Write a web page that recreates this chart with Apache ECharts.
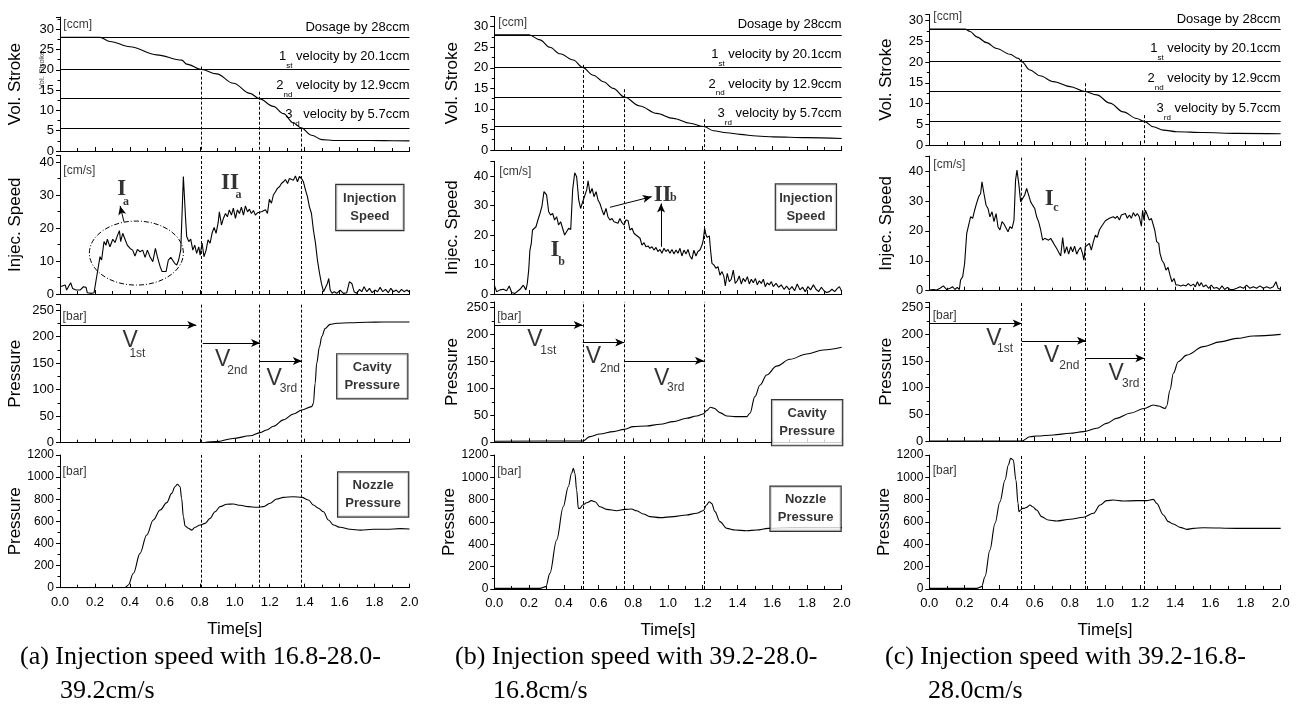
<!DOCTYPE html>
<html><head><meta charset="utf-8">
<script src="https://cdn.jsdelivr.net/npm/echarts@6/dist/echarts.min.js"></script>
<style>html,body{margin:0;padding:0;background:#fff}#c{width:1304px;height:704px}</style>
</head><body><div id="c"></div>
<script>
// ---------------- DATA ----------------
const timeMin = 0, timeMax = 2.0, timeStep = 0.2;
const levels = [28, 20.1, 12.9, 5.7];
const levelNum = ['', '1', '2', '3'];
const levelSub = ['', 'st', 'nd', 'rd'];
const levelText = ['Dosage by 28ccm', ' velocity by 20.1ccm', ' velocity by 12.9ccm', ' velocity by 5.7ccm'];

// (a) 16.8-28.0-39.2 cm/s
const strokeA = [[0,28],[0.23,28],[0.286,27],[0.4,25.7],[0.553,23.7],[0.697,22.4],[0.725,21.4],[0.81,20.1],[0.897,19],[0.992,16.7],[1.088,14.2],[1.14,12.9],[1.221,11],[1.279,9.2],[1.336,6.9],[1.38,5.7],[1.44,3.9],[1.498,2.8],[1.565,2.6],[1.7,2.6],[1.85,2.55],[2.0,2.5]];
const speedA = [[0,2.2],[0.03,2.7],[0.038,1.2],[0.061,3.4],[0.072,1.7],[0.092,1.2],[0.115,1.2],[0.134,2.2],[0.149,2],[0.156,0.4],[0.181,0.2],[0.195,0.4],[0.21,5.3],[0.229,11.3],[0.238,10.3],[0.252,15.9],[0.263,14.8],[0.271,16.6],[0.286,14.3],[0.302,16.6],[0.315,15.6],[0.328,17.6],[0.34,19.2],[0.347,15.9],[0.359,18.4],[0.372,16.6],[0.385,14.8],[0.401,13.8],[0.416,13.3],[0.429,11.5],[0.443,13.5],[0.458,12.8],[0.473,13.3],[0.487,11.1],[0.5,13.3],[0.515,11.3],[0.531,9.8],[0.546,13.8],[0.557,11.3],[0.573,8.3],[0.584,6.8],[0.595,7.3],[0.607,6.8],[0.62,10.3],[0.634,11.1],[0.645,11.5],[0.656,9.3],[0.668,8.8],[0.679,10.3],[0.691,13.3],[0.706,35.6],[0.718,23.4],[0.725,17.4],[0.737,15.9],[0.748,16.6],[0.76,13.3],[0.771,14.8],[0.782,12.3],[0.794,14.3],[0.802,11.8],[0.813,15.4],[0.824,11.3],[0.836,13.3],[0.847,16.4],[0.859,15.4],[0.87,18.4],[0.882,20.2],[0.893,18.4],[0.905,21.6],[0.912,24.9],[0.924,20.9],[0.935,22.9],[0.947,24.4],[0.958,23.4],[0.969,25.5],[0.981,23.9],[0.992,26],[1.004,22.9],[1.015,25.5],[1.027,24.4],[1.038,26.3],[1.05,23.9],[1.061,26.7],[1.073,24.9],[1.084,25.7],[1.095,24.4],[1.107,25.3],[1.118,23.9],[1.13,24.6],[1.141,24.2],[1.153,24.9],[1.164,24.6],[1.176,25.5],[1.187,24.4],[1.198,28.7],[1.21,27.5],[1.221,30],[1.233,31],[1.244,32],[1.256,32.5],[1.267,33.5],[1.279,34],[1.29,34.7],[1.302,33.5],[1.313,35],[1.324,35.4],[1.336,34.5],[1.347,35.8],[1.359,34],[1.37,35.6],[1.382,35],[1.393,34],[1.405,31.5],[1.416,29.5],[1.427,26.5],[1.439,24.4],[1.45,19.4],[1.462,15.4],[1.473,10.3],[1.485,6.3],[1.496,3.2],[1.508,0.7],[1.519,0.2],[1.53,3.2],[1.538,4.7],[1.546,1.2],[1.557,0.2],[1.569,0.7],[1.584,0.2],[1.603,1.2],[1.622,0.2],[1.641,0.4],[1.656,3.7],[1.67,3.2],[1.683,0.7],[1.698,0.2],[1.714,1.4],[1.727,0.7],[1.74,2.2],[1.756,0.7],[1.771,1.7],[1.786,0.4],[1.802,1.2],[1.817,0.7],[1.832,2],[1.847,0.7],[1.863,1.4],[1.878,0.4],[1.893,1.7],[1.908,0.7],[1.924,1.2],[1.939,0.4],[1.954,1.4],[1.969,0.7],[1.985,1.2],[2.0,0.6]];
const cavityA = [[0.82,0],[0.897,2],[0.99,8],[1.088,13],[1.145,19],[1.183,24],[1.221,31],[1.279,43],[1.336,54],[1.384,61.6],[1.44,68],[1.45,74],[1.46,112],[1.469,150],[1.485,181],[1.498,200],[1.517,215],[1.546,223],[1.584,225],[1.66,226],[1.756,227],[1.851,227.4],[2.0,227.4]];
const nozzleA = [[0,0],[0.372,0],[0.391,24],[0.42,130],[0.458,310],[0.496,476],[0.534,612],[0.573,702],[0.611,769],[0.639,853],[0.658,913],[0.672,935],[0.687,913],[0.696,808],[0.706,642],[0.716,558],[0.735,537],[0.754,521],[0.773,546],[0.802,567],[0.83,582],[0.859,627],[0.887,687],[0.916,733],[0.954,754],[0.992,757],[1.031,745],[1.078,733],[1.126,727],[1.164,733],[1.202,763],[1.24,802],[1.279,817],[1.336,823],[1.384,817],[1.422,793],[1.45,748],[1.479,718],[1.508,687],[1.536,612],[1.565,567],[1.603,546],[1.66,528],[1.718,521],[1.794,528],[1.87,528],[1.947,534],[2.0,531]];
const vLinesA = [0.81, 1.14, 1.38];
const vStartA = [20.8, 14.6, 5.5];
const stageArrowsA = [[0,0.78,221.6],[0.817,1.145,188],[1.14,1.384,153.8]];
const speedArrowsA = [[0.366,21.9,0.344,26.7]];
const ellipseA = [[0.437,12.4,0.269,9.7]];

// (b) 39.2-28.0-16.8 cm/s
const strokeB = [[0,28],[0.2,28],[0.263,26.8],[0.32,25],[0.378,23.4],[0.455,21.9],[0.508,20.1],[0.57,18.2],[0.628,16.6],[0.685,15],[0.748,12.9],[0.838,10.7],[0.935,8.9],[1.03,7.7],[1.127,6.5],[1.207,5.7],[1.261,4.7],[1.338,4.2],[1.414,3.8],[1.51,3.4],[1.606,3.2],[1.798,3.0],[2.0,2.8]];
const speedB = [[0,3],[0.013,0.8],[0.033,1.4],[0.052,1.6],[0.071,1.1],[0.086,2.7],[0.1,0.5],[0.119,0.2],[0.148,1.6],[0.167,3],[0.182,1.4],[0.19,3.6],[0.198,8.1],[0.205,14.9],[0.213,17.2],[0.22,21.7],[0.228,21.1],[0.24,22.8],[0.251,25.1],[0.263,27.3],[0.274,29.6],[0.286,34.7],[0.294,35.3],[0.301,33.6],[0.313,27.9],[0.324,26.8],[0.336,27.3],[0.347,25.1],[0.359,26.2],[0.37,23.4],[0.382,24.5],[0.393,22.3],[0.405,20],[0.416,20.6],[0.428,22.3],[0.44,21.9],[0.451,35.3],[0.463,41.1],[0.474,39.8],[0.486,31.9],[0.497,29],[0.509,31.3],[0.52,31.9],[0.532,35.3],[0.54,38.4],[0.551,34.1],[0.563,35.8],[0.574,33],[0.586,34.7],[0.597,31.9],[0.608,30.7],[0.62,28.5],[0.631,26.8],[0.643,29],[0.654,26.2],[0.666,25.1],[0.678,25.6],[0.689,24.5],[0.7,24.9],[0.712,24],[0.723,25.6],[0.735,24.2],[0.747,23.4],[0.758,25.1],[0.77,24.9],[0.781,21.7],[0.793,22.3],[0.804,20.6],[0.816,20],[0.827,19.4],[0.839,18.9],[0.85,16.6],[0.862,17.4],[0.873,16],[0.885,16.3],[0.896,15.5],[0.908,16],[0.919,14.9],[0.931,15.8],[0.942,14.4],[0.954,15.1],[0.965,13.8],[0.977,15.5],[0.988,14.4],[1.0,15.1],[1.011,13.8],[1.023,15.1],[1.034,13.6],[1.046,14.9],[1.057,13.8],[1.069,15.5],[1.08,12.9],[1.092,14.9],[1.104,13.6],[1.115,15.1],[1.126,12.9],[1.138,11.8],[1.149,14.9],[1.161,12.9],[1.172,14.4],[1.184,14.9],[1.196,16.6],[1.203,18.3],[1.211,22.3],[1.219,20],[1.226,19.2],[1.238,19.7],[1.245,14.9],[1.253,10.4],[1.265,9.8],[1.276,8.7],[1.288,9.3],[1.299,6.4],[1.311,7.6],[1.322,5.9],[1.33,2.7],[1.341,7],[1.353,4.2],[1.364,5],[1.376,8.1],[1.387,3.6],[1.399,4.5],[1.41,6.1],[1.422,3.4],[1.433,5.3],[1.445,4.2],[1.457,5.9],[1.468,3.4],[1.48,5],[1.491,3.8],[1.503,5.3],[1.514,3.1],[1.526,4.5],[1.537,3.6],[1.549,5],[1.56,2.5],[1.572,3.8],[1.583,3.1],[1.595,4.2],[1.606,2.5],[1.622,3.6],[1.637,2.3],[1.652,3.1],[1.668,1.6],[1.683,2.7],[1.698,1.4],[1.714,2.5],[1.729,1.1],[1.744,3.4],[1.76,1.4],[1.775,2.3],[1.79,0.8],[1.806,2.5],[1.821,1.4],[1.837,3.1],[1.852,1.6],[1.867,0.8],[1.883,2.3],[1.898,1.1],[1.913,0.5],[1.929,0.8],[1.944,1.6],[1.96,0.8],[1.975,1.9],[1.987,2.5],[2.0,0.8]];
const cavityB = [[0,2],[0.509,2.5],[0.551,10.5],[0.608,15.4],[0.685,19.8],[0.748,24],[0.8,29],[0.877,30.2],[0.954,33.3],[1.03,38.3],[1.107,44.4],[1.165,48.8],[1.203,52.5],[1.222,58.6],[1.245,64.8],[1.265,63],[1.299,55],[1.338,48.8],[1.386,47.5],[1.453,47.5],[1.472,53.7],[1.5,84.6],[1.53,106],[1.568,124.7],[1.625,141],[1.702,153.7],[1.798,163.6],[1.894,171],[2.0,176]];
const nozzleB = [[0,6],[0.263,6],[0.297,21],[0.32,140],[0.359,439],[0.397,737],[0.426,916],[0.445,1036],[0.455,1081],[0.464,1036],[0.474,887],[0.484,722],[0.493,722],[0.509,752],[0.532,773],[0.56,791],[0.58,782],[0.608,737],[0.647,713],[0.705,701],[0.752,713],[0.79,716],[0.82,701],[0.858,672],[0.896,648],[0.954,639],[1.031,648],[1.107,663],[1.165,678],[1.203,701],[1.222,752],[1.238,782],[1.251,767],[1.27,693],[1.299,603],[1.338,543],[1.386,528],[1.453,522],[1.51,528],[1.577,543],[1.7,550],[2.0,550]];
const vLinesB = [0.51, 0.75, 1.21];
const vStartB = [20.7, 14.8, 7.5];
const stageArrowsB = [[0,0.509,217],[0.509,0.748,184.6],[0.748,1.207,151]];
const speedArrowsB = [[0.666,29.4,0.906,33],[0.96,16,0.96,30.7]];

// (c) 39.2-16.8-28.0 cm/s
const strokeC = [[0,28],[0.203,28],[0.232,27.4],[0.27,26.1],[0.326,24.7],[0.383,23.3],[0.459,21.9],[0.507,20.9],[0.526,20.1],[0.573,18.1],[0.63,16.7],[0.706,15.3],[0.801,14.1],[0.886,12.9],[0.953,12.1],[1.028,10.1],[1.104,8],[1.18,6.4],[1.224,5.7],[1.275,4.4],[1.332,3.6],[1.408,3.2],[1.56,3],[1.75,2.8],[2.0,2.7]];
const speedC = [[0,0.2],[0.023,0.4],[0.042,0.2],[0.061,0.8],[0.08,1.6],[0.099,0.4],[0.118,0.8],[0.133,1.3],[0.146,0.4],[0.159,1.1],[0.171,0.4],[0.178,3.6],[0.19,4.7],[0.201,9.1],[0.213,19.2],[0.224,19.4],[0.235,24.7],[0.247,24.2],[0.258,26.9],[0.269,29.2],[0.281,31.4],[0.292,32.5],[0.3,36.4],[0.311,32.5],[0.323,28.6],[0.334,27.5],[0.345,24.7],[0.357,26.4],[0.368,23.1],[0.38,25.8],[0.391,21.4],[0.402,20.3],[0.414,23.1],[0.425,22.3],[0.436,22.7],[0.448,19.7],[0.459,21.4],[0.471,20.8],[0.482,23.6],[0.491,37],[0.499,40.3],[0.509,35.9],[0.52,29.7],[0.531,29.7],[0.543,32],[0.554,34.2],[0.565,33.6],[0.577,29.7],[0.588,28.6],[0.6,27.5],[0.611,24.7],[0.622,23.1],[0.634,20.3],[0.645,16.9],[0.657,17.5],[0.668,18],[0.679,16.9],[0.691,17.5],[0.702,16.4],[0.713,15.3],[0.725,14.1],[0.736,14.7],[0.748,11.6],[0.759,17.8],[0.77,12.5],[0.782,14.7],[0.793,12.2],[0.805,14.7],[0.816,13],[0.827,14.9],[0.839,12.2],[0.85,13.6],[0.861,14.5],[0.873,12.2],[0.88,10.2],[0.888,14.7],[0.899,14.1],[0.911,15.8],[0.922,13.6],[0.934,16.4],[0.945,18.6],[0.956,17.8],[0.968,20.3],[0.979,21.4],[0.99,21.2],[1.002,23.4],[1.013,23.1],[1.025,24.2],[1.036,23.6],[1.047,24.7],[1.059,24.2],[1.07,24.9],[1.082,23.6],[1.093,25.3],[1.104,24.7],[1.116,25.8],[1.127,24.2],[1.139,25.3],[1.15,24.2],[1.161,26.1],[1.173,24.9],[1.184,25.8],[1.195,24.7],[1.207,21.6],[1.214,26.9],[1.222,23.6],[1.23,26.9],[1.241,25.3],[1.252,23.6],[1.264,24.2],[1.271,23.6],[1.283,20.3],[1.294,16.4],[1.306,15.8],[1.313,12.5],[1.324,10.2],[1.336,9.1],[1.347,6.9],[1.359,7.8],[1.37,5.2],[1.381,3],[1.393,4.1],[1.404,1.9],[1.417,1.9],[1.431,1.6],[1.446,1.9],[1.461,1.6],[1.474,2.4],[1.488,1.6],[1.503,2.2],[1.514,1.3],[1.526,3],[1.537,1.6],[1.548,2.7],[1.56,1.3],[1.575,1.9],[1.59,0.8],[1.605,1.9],[1.62,0.8],[1.636,1.1],[1.651,0.4],[1.666,1.6],[1.681,0.4],[1.696,1.1],[1.712,0.4],[1.731,0.4],[1.75,0.8],[1.769,1.3],[1.788,0.8],[1.806,1.9],[1.825,0.8],[1.844,1.3],[1.863,0.8],[1.882,1.6],[1.901,0.8],[1.92,1.3],[1.939,0.8],[1.958,1.3],[1.973,3],[1.985,0.8],[2.0,0.4]];
const cavityC = [[0,0],[0.526,0],[0.573,8],[0.611,9.4],[0.706,11.3],[0.801,14.4],[0.877,17.5],[0.953,23.8],[1.009,33],[1.066,42.5],[1.142,52],[1.224,61],[1.275,67.5],[1.304,65.6],[1.342,61],[1.351,65.6],[1.37,95.6],[1.389,127],[1.417,148.8],[1.465,161],[1.56,177],[1.655,186],[1.75,192.5],[1.844,197],[2.0,200]];
const nozzleC = [[0,6],[0.27,6],[0.298,21],[0.317,110],[0.345,349],[0.374,588],[0.402,782],[0.431,976],[0.45,1110],[0.463,1170],[0.478,1155],[0.493,976],[0.505,767],[0.51,693],[0.52,707],[0.53,722],[0.539,722],[0.554,731],[0.573,752],[0.588,737],[0.611,707],[0.639,648],[0.677,618],[0.725,609],[0.801,624],[0.877,642],[0.934,678],[0.972,752],[1.009,791],[1.047,797],[1.104,788],[1.18,791],[1.237,791],[1.275,803],[1.294,767],[1.332,663],[1.36,603],[1.389,582],[1.427,552],[1.465,534],[1.503,543],[1.56,549],[1.75,543],[2.0,543]];
const vLinesC = [0.525, 0.885, 1.224];
const vStartC = [20.7, 14.9, 7.2];
const stageArrowsC = [[0,0.526,220.6],[0.526,0.892,188],[0.892,1.224,155]];
const speedArrowsC = [];

// Text annotations: [text, time, value, style]
const unitLabels = [
  [['[ccm]',0.019,31.2],['[cm/s]',0.019,37.4],['[bar]',0.015,236.8],['[bar]',0.015,1046]],
  [['[ccm]',0.023,31],['[cm/s]',0.029,41.4],['[bar]',0.017,232],['[bar]',0.017,1051]],
  [['[ccm]',0.023,31],['[cm/s]',0.023,42],['[bar]',0.019,236],['[bar]',0.019,1060]]
];
const speedMarks = [
  [['I',0.353,31.7,'rom'],['a',0.378,28,'romSub'],['II',0.973,33.5,'rom'],['a',1.021,30,'romSub']],
  [['I',0.349,14.9,'rom'],['b',0.388,11,'romSub'],['II',0.969,33.6,'rom'],['b',1.031,32.6,'romSub']],
  [['I',0.683,30.8,'rom'],['c',0.721,27.8,'romSub']]
];
const stageMarks = [
  [['V',0.401,191.6,'v'],['1st',0.443,168.3,'vSub'],['V',0.931,155.8,'v'],['2nd',1.015,135,'vSub'],['V',1.225,121,'v'],['3rd',1.307,102.4,'vSub']],
  [['V',0.234,189.5,'v'],['1st',0.311,169,'vSub'],['V',0.57,158.6,'v'],['2nd',0.666,137,'vSub'],['V',0.964,118.5,'v'],['3rd',1.044,101.9,'vSub']],
  [['V',0.368,192.5,'v'],['1st',0.431,172.5,'vSub'],['V',0.696,161,'v'],['2nd',0.797,140.6,'vSub'],['V',1.063,127,'v'],['3rd',1.146,107,'vSub']]
];
const boxes = [
  [null, ['Injection\nSpeed',1.773,26.2,69,47], ['Cavity\nPressure',1.787,125,72,46], ['Nozzle\nPressure',1.792,842.6,72,46]],
  [null, ['Injection\nSpeed',1.794,29.5,62,47], ['Cavity\nPressure',1.801,36.4,72,47], ['Nozzle\nPressure',1.792,719,72,46]],
  [null, null, null, null]
];
const captions = [
  ['(a) Injection speed with 16.8-28.0-', '39.2cm/s'],
  ['(b) Injection speed with 39.2-28.0-', '16.8cm/s'],
  ['(c) Injection speed with 39.2-16.8-', '28.0cm/s']
];
const rowNames = ['Vol. Stroke', 'Injec. Speed', 'Pressure', 'Pressure'];
const rowInterval = [5, 10, 50, 200];

// ---------------- LAYOUT ----------------
const layout = [
  {left:60, width:349.5, nameGap:36, capX:[20,60], rows:[{top:17.1,h:133.9,max:33},{top:155.4,h:138.6,max:42},{top:304.7,h:138,max:260},{top:455,h:132.7,max:1200}]},
  {left:494.3, width:347.4, nameGap:33, capX:[455,493], rows:[{top:16.4,h:133.6,max:32.5},{top:161.3,h:132.7,max:45},{top:301.9,h:140.4,max:260},{top:455,h:134,max:1200}]},
  {left:929.3, width:351.4, nameGap:34, capX:[885,928], rows:[{top:14.5,h:130.5,max:31.5},{top:156.1,h:134.6,max:45},{top:302.4,h:138.6,max:260},{top:455,h:134,max:1200}]}
];
const panels = [
  {series:[strokeA,speedA,cavityA,nozzleA], vl:vLinesA, vs:vStartA, stage:stageArrowsA, sp:speedArrowsA},
  {series:[strokeB,speedB,cavityB,nozzleB], vl:vLinesB, vs:vStartB, stage:stageArrowsB, sp:speedArrowsB},
  {series:[strokeC,speedC,cavityC,nozzleC], vl:vLinesC, vs:vStartC, stage:stageArrowsC, sp:speedArrowsC}
];

const FONT = '"Liberation Sans", Arial, Helvetica, sans-serif';
const SERIF = '"Liberation Serif", "Times New Roman", serif';
const noteStyles = {
  rom: {fontFamily: SERIF, fontWeight: 'bold', fontSize: 23, align: 'center', verticalAlign: 'middle'},
  romSub: {fontFamily: SERIF, fontWeight: 'bold', fontSize: 12, align: 'center', verticalAlign: 'middle'},
  v: {fontFamily: FONT, fontSize: 23, align: 'center', verticalAlign: 'middle'},
  vSub: {fontFamily: FONT, fontSize: 12, align: 'center', verticalAlign: 'middle'},
  unit: {fontFamily: FONT, fontSize: 12, align: 'left', verticalAlign: 'middle'}
};
const isMult = (v, iv) => Math.abs(v / iv - Math.round(v / iv)) < 1e-6;
const dash = [3, 2];

const grids = [], xAxes = [], yAxes = [], series = [], graphics = [];

panels.forEach((p, ci) => {
  const L = layout[ci];
  L.rows.forEach((r, ri) => {
    const gi = grids.length;
    const iv = rowInterval[ri];
    grids.push({left: L.left, width: L.width, top: r.top, height: r.h});
    xAxes.push({
      gridIndex: gi, type: 'value', min: timeMin, max: timeMax, interval: timeStep,
      axisLine: {show: true, onZero: false, lineStyle: {color: '#000', width: 1}},
      axisTick: {show: true, inside: true, length: 4, lineStyle: {color: '#000'}},
      minorTick: {show: true, splitNumber: 2, length: 3, lineStyle: {color: '#000'}},
      splitLine: {show: false}, minorSplitLine: {show: false},
      axisLabel: {show: ri === 3, margin: 8, fontSize: 13, color: '#000', fontFamily: FONT,
        formatter: v => v.toFixed(1)},
      name: ri === 3 ? 'Time[s]' : '', nameLocation: 'middle', nameGap: 33,
      nameTextStyle: {fontSize: 17, color: '#000', fontFamily: FONT}
    });
    yAxes.push({
      gridIndex: gi, type: 'value', min: 0, max: r.max, interval: iv,
      axisLine: {show: true, onZero: false, lineStyle: {color: '#000', width: 1}},
      axisTick: {show: true, inside: false, length: 4, lineStyle: {color: '#000'}},
      minorTick: {show: true, splitNumber: 2, length: 2.5, lineStyle: {color: '#000'}},
      splitLine: {show: false}, minorSplitLine: {show: false},
      axisLabel: {margin: 6, fontSize: ri === 3 ? 12 : 13, color: '#000', fontFamily: FONT,
        formatter: v => isMult(v, iv) ? String(v) : ''},
      name: rowNames[ri], nameLocation: 'middle', nameGap: L.nameGap,
      nameTextStyle: {fontSize: 17, color: '#000', fontFamily: FONT}
    });

    const ml = [];
    if (ri === 0) {
      levels.forEach((lv, k) => {
        const fmt = k === 0 ? '{d|' + levelText[0] + '}'
          : '{n|' + levelNum[k] + '}{s|' + levelSub[k] + '}{n|' + levelText[k] + '}';
        ml.push({yAxis: lv, lineStyle: {type: 'solid', color: '#000', width: 1},
          label: {show: true, position: 'insideEndTop', distance: [0, 0], formatter: fmt, color: '#000',
            rich: {
              d: {fontFamily: FONT, fontSize: 13, lineHeight: 20, verticalAlign: 'middle', color: '#000'},
              n: {fontFamily: FONT, fontSize: 13, lineHeight: 26, verticalAlign: 'middle', color: '#000'},
              s: {fontFamily: FONT, fontSize: 8, lineHeight: 11, verticalAlign: 'bottom', color: '#000'}
            }}});
      });
      p.vl.forEach((t, k) => {
        ml.push([{coord: [t, p.vs[k]], lineStyle: {type: dash, color: '#000', width: 1}}, {coord: [t, 0]}]);
      });
    } else {
      p.vl.forEach(t => ml.push({xAxis: t, lineStyle: {type: dash, color: '#000', width: 1}}));
    }
    if (ri === 2) {
      p.stage.forEach(a => ml.push([{coord: [a[0], a[2]], symbol: 'none', lineStyle: {type: 'solid', color: '#000', width: 1}},
        {coord: [a[1], a[2]], symbol: 'arrow', symbolSize: [6, 9]}]));
    }
    if (ri === 1) {
      p.sp.forEach(a => ml.push([{coord: [a[0], a[1]], symbol: 'none', lineStyle: {type: 'solid', color: '#000', width: 1}},
        {coord: [a[2], a[3]], symbol: 'arrow', symbolSize: [6, 9]}]));
    }

    series.push({
      type: 'line', xAxisIndex: gi, yAxisIndex: gi, data: p.series[ri],
      showSymbol: false, symbol: 'none', animation: false,
      smooth: ri === 1 ? false : 0.35, smoothMonotone: 'x',
      lineStyle: {color: '#000', width: 1.1},
      markLine: {silent: true, animation: false, symbol: ['none', 'none'], label: {show: false},
        precision: 4, data: ml}
    });

    const notes = [];
    const u = unitLabels[ci][ri];
    notes.push({name: u[0], value: [u[1], u[2]], label: noteStyles.unit});
    if (ri === 1 && speedMarks[ci]) speedMarks[ci].forEach(m => notes.push({name: m[0], value: [m[1], m[2]], label: noteStyles[m[3]]}));
    if (ri === 2) stageMarks[ci].forEach(m => notes.push({name: m[0], value: [m[1], m[2]], label: noteStyles[m[3]]}));
    const b = boxes[ci][ri];
    if (b) notes.push({name: b[0], value: [b[1], b[2]], label: {
      fontFamily: FONT, fontWeight: 'bold', fontSize: 13, lineHeight: 18, align: 'center', verticalAlign: 'middle',
      width: b[3] - 2, height: b[4] - 2, padding: 0, borderColor: '#000', borderWidth: 1.2, backgroundColor: '#fff'}});
    series.push({
      type: 'scatter', xAxisIndex: gi, yAxisIndex: gi, data: notes, symbol: 'circle', symbolSize: 0.1,
      itemStyle: {color: 'rgba(0,0,0,0)'}, silent: true, animation: false, z: 10, clip: false,
      label: {show: true, position: 'inside', color: '#000', formatter: q => q.name}
    });

    if (ci === 0 && ri === 1) {
      series.push({
        type: 'custom', xAxisIndex: gi, yAxisIndex: gi, data: ellipseA, silent: true, animation: false, z: 4,
        renderItem: (params, api) => {
          const c = api.coord([api.value(0), api.value(1)]);
          const s = api.size([api.value(2), api.value(3)]);
          return {type: 'ellipse', shape: {cx: c[0], cy: c[1], rx: s[0], ry: s[1]},
            style: {fill: 'none', stroke: '#000', lineWidth: 1, lineDash: [5, 2, 1, 2]}};
        }
      });
    }
  });
  graphics.push({type: 'text', left: L.capX[0], top: 644, style: {text: captions[ci][0], font: '26px ' + SERIF, fill: '#000'}});
  graphics.push({type: 'text', left: L.capX[1], top: 678, style: {text: captions[ci][1], font: '26px ' + SERIF, fill: '#000'}});
});
graphics.push({type: 'text', x: 42, y: 70, rotation: Math.PI / 2,
  style: {text: 'Vol. Stroke', font: '8px ' + FONT, fill: '#444', align: 'center', verticalAlign: 'middle'}});

const chart = echarts.init(document.getElementById('c'), null, {renderer: 'canvas'});
chart.setOption({
  animation: false, backgroundColor: '#fff',
  grid: grids, xAxis: xAxes, yAxis: yAxes, series: series, graphic: graphics
});
</script></body></html>
